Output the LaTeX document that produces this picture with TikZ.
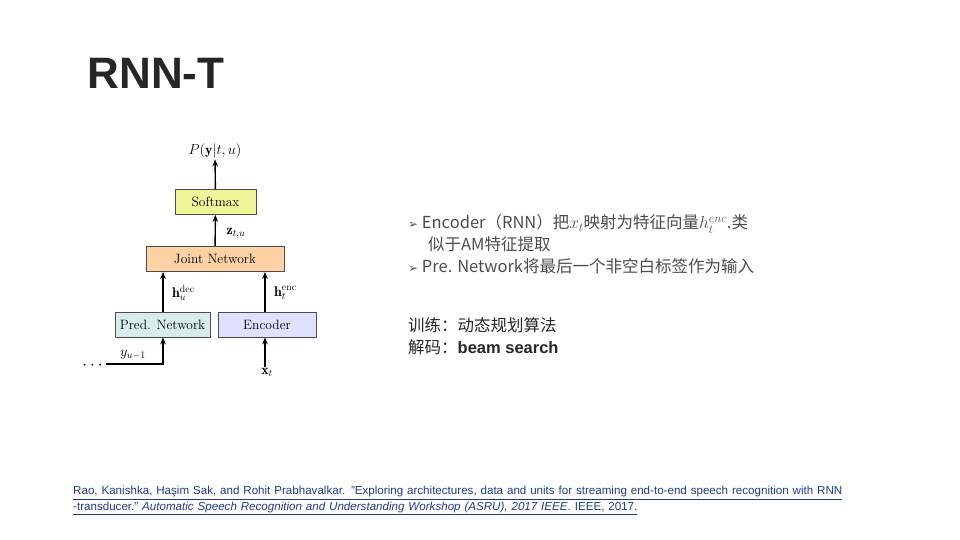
\documentclass[tikz,border=0pt]{standalone}
\usepackage{fontspec}
\usepackage{amsmath}
\setsansfont{Liberation Sans}
\newfontfamily\cjk{Noto Sans CJK SC}
\newfontfamily\dv{DejaVu Sans}
\usetikzlibrary{arrows.meta}
\definecolor{cite}{HTML}{1F3A8A}
\begin{document}
\begin{tikzpicture}[x=1pt,y=-1pt,
  box/.style={draw=black!70,line width=0.8pt,minimum height=25pt,inner sep=0pt,font=\fontsize{13.5}{13.5}\selectfont},
  arr/.style={-{Stealth[length=7pt,width=5.5pt]},line width=1.4pt},
  lbl/.style={font=\fontsize{14}{14}\selectfont,inner sep=1pt},
  rt/.style={anchor=west,inner sep=0pt,font=\fontsize{16.5}{19}\selectfont\cjk,text=black!70}]
\useasboundingbox (0,0) rectangle (960,540);
\node[anchor=west,font=\fontsize{44}{44}\selectfont\sffamily\bfseries,text=black!85] (title) at (84,73) {RNN-T};
% diagram
\node[box,fill=yellow!45!lime!40,minimum width=81pt] (sm) at (215.5,202) {Softmax};
\node[box,fill=orange!35,minimum width=138pt] (jn) at (215,259) {Joint Network};
\node[box,fill=teal!15,minimum width=95pt] (pn) at (162.5,324.5) {Pred. Network};
\node[box,fill=blue!12,minimum width=98pt] (en) at (267,324.5) {Encoder};
\node[lbl] (p) at (215,151) {$P(\mathbf{y}|t,u)$};
\draw[arr] (sm) -- (p);
\draw[arr] (jn) -- (sm);
\node[lbl] (z) at (236,233) {$\mathbf{z}_{t,u}$};
\draw[arr] (pn.north -| 163,0) coordinate (pa) -- (pa |- jn.south);
\draw[arr] (en.north -| 265,0) coordinate (ea) -- (ea |- jn.south);
\node[lbl,anchor=west] (hd) at (171,293) {$\mathbf{h}_u^{\mathrm{dec}}$};
\node[lbl,anchor=west] (he) at (273,293) {$\mathbf{h}_t^{\mathrm{enc}}$};
\node[inner sep=0pt,font=\fontsize{16}{16}\selectfont] (dots) at (94,366) {$\cdots$};
\coordinate (c1) at (163,364);
\draw[arr] (dots.east |- c1) -- (c1) -- (c1 |- pn.south);
\node[lbl] (y) at (133,355) {$y_{u-1}$};
\node[lbl] (x) at (267,372) {$\mathbf{x}_t$};
\draw[arr] (x.north -| 265,0) -- (en.south -| 265,0);
% right texts
\node[rt] (b1) at (408,224) {{\dv\fontsize{12}{12}\selectfont ➢}\ Encoder（RNN）把$x_t$映射为特征向量$h_t^{enc}$.类};
\node[rt] (b1b) at (428,244) {似于AM特征提取};
\node[rt] (b2) at (408,266) {{\dv\fontsize{12}{12}\selectfont ➢}\ Pre. Network将最后一个非空白标签作为输入};
\node[rt,text=black!85] (t1) at (408,325) {训练：动态规划算法};
\node[rt,text=black!85] (t2) at (408,347) {解码：{\sffamily\bfseries beam search}};
% citation
\node[anchor=north west,inner sep=0pt,text width=800pt,align=left,text=cite,font=\fontsize{11.6}{16}\sffamily] (cite) at (73,486) {\underline{Rao, Kanishka, Haşim Sak, and Rohit Prabhavalkar. "Exploring architectures, data and units for streaming end-to-end speech recognition with RNN}\\\underline{-transducer." \textit{Automatic Speech Recognition and Understanding Workshop (ASRU), 2017 IEEE}. IEEE, 2017.}};
\end{tikzpicture}
\end{document}
